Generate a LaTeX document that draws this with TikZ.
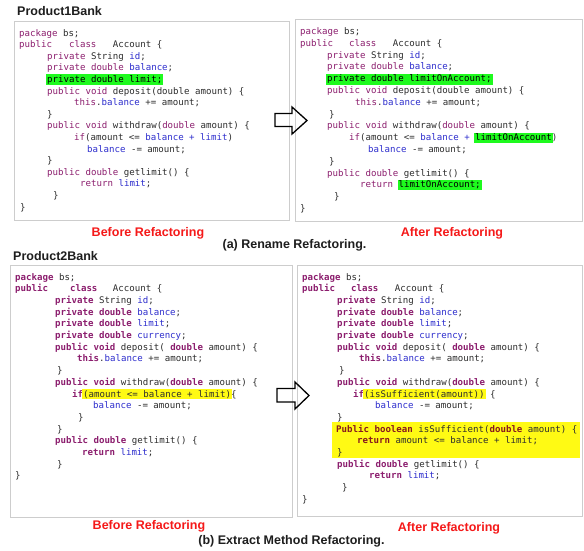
\documentclass[tikz,border=0pt]{standalone}
\usepackage{fontspec}
\setmainfont{Liberation Sans}
\newfontfamily\codefont{DejaVu Sans Mono}
\definecolor{kw}{RGB}{140,30,110}
\definecolor{kwy}{RGB}{135,25,30}
\definecolor{fldc}{RGB}{45,45,205}
\definecolor{codetxt}{RGB}{45,45,45}
\definecolor{titletxt}{RGB}{30,30,30}
\definecolor{capred}{RGB}{245,25,25}
\definecolor{panelgray}{RGB}{205,205,205}
\definecolor{hlgreen}{RGB}{30,250,30}
\definecolor{hlyellow}{RGB}{255,250,20}
\newcommand\jk[1]{\textcolor{kw}{#1}}
\newcommand\jkb[1]{\textcolor{kw}{\bfseries #1}}
\newcommand\jky[1]{\textcolor{kwy}{\bfseries #1}}
\newcommand\jf[1]{\textcolor{fldc}{#1}}
\newcommand\jhl[2]{\hspace*{-1pt}{\setlength{\fboxsep}{1pt}\colorbox{#1}{\vphantom{Ald(;}#2}}\hspace*{-1pt}}
\tikzset{
  code/.style={font=\codefont\fontsize{9.1}{10}\selectfont, text=codetxt, inner sep=0pt, anchor=base west},
  titletext/.style={font=\bfseries\fontsize{12.5}{14}\selectfont, text=titletxt, inner sep=0pt, anchor=base west},
  captext/.style={font=\bfseries\fontsize{12.5}{14}\selectfont, text=capred, inner sep=0pt, anchor=base},
  subtext/.style={font=\bfseries\fontsize{12.5}{14}\selectfont, text=titletxt, inner sep=0pt, anchor=base},
  panel/.style={draw=panelgray, line width=1pt, fill=white, inner sep=0pt},
  blockarrow/.style={draw=black, line width=1.3pt, line join=miter},
}
\begin{document}
\begin{tikzpicture}[x=1pt,y=-1pt]
\fill[white] (0,0) rectangle (584,550);
\useasboundingbox (0,0) rectangle (584,550);

% panels
\node[panel, minimum width=275pt, minimum height=199pt] (tlbox) at (151.5,120.5) {};
\node[panel, minimum width=287pt, minimum height=202pt] (trbox) at (438.5,120) {};
\node[panel, minimum width=282pt, minimum height=252pt] (blbox) at (151,391) {};
\node[panel, minimum width=285pt, minimum height=251pt] (brbox) at (439.5,390.5) {};

% titles
\node[titletext] (t1) at (17,15.5) {Product1Bank};
\node[titletext] (t2) at (13,260.5) {Product2Bank};

% top-left code
\node[code] (tl0) at (19,36) {\jk{package} bs;};
\node[code] (tl1) at (19,47.6) {\jk{public}\hspace{17pt}\jk{class}\hspace{16.5pt}Account \{};
\node[code] (tl2) at (47,59.2) {\jk{private} String \jf{id};};
\node[code] (tl3) at (47,70.8) {\jk{private double} \jf{balance};};
\node[code] (tl4) at (47,82.4) {\jhl{hlgreen}{\textcolor{black}{private double limit;}}};
\node[code] (tl5) at (47,94) {\jk{public void} deposit(double amount) \{};
\node[code] (tl6) at (74,105.6) {\jk{this}.\jf{balance} += amount;};
\node[code] (tl7) at (47,117.2) {\}};
\node[code] (tl8) at (47,128.8) {\jk{public void} withdraw(\jk{double} amount) \{};
\node[code] (tl9) at (74,140.4) {\jk{if}(amount <= \jf{balance + limit})};
\node[code] (tl10) at (87,152) {\jf{balance} -= amount;};
\node[code] (tl11) at (47,163.6) {\}};
\node[code] (tl12) at (47,175.2) {\jk{public double} getlimit() \{};
\node[code] (tl13) at (80,186.8) {\jk{return} \jf{limit};};
\node[code] (tl14) at (53,198.4) {\}};
\node[code] (tl15) at (20,210) {\}};

% top-right code
\node[code] (tr0) at (300,34.5) {\jk{package} bs;};
\node[code] (tr1) at (300,46.3) {\jk{public}\hspace{16pt}\jk{class}\hspace{16.5pt}Account \{};
\node[code] (tr2) at (327,58.1) {\jk{private} String \jf{id};};
\node[code] (tr3) at (327,69.9) {\jk{private double} \jf{balance};};
\node[code] (tr4) at (327,81.7) {\jhl{hlgreen}{\textcolor{black}{private double limitOnAccount;}}};
\node[code] (tr5) at (327,93.5) {\jk{public void} deposit(double amount) \{};
\node[code] (tr6) at (355,105.3) {\jk{this}.\jf{balance} += amount;};
\node[code] (tr7) at (329,117.1) {\}};
\node[code] (tr8) at (327,128.9) {\jk{public void} withdraw(\jk{double} amount) \{};
\node[code] (tr9) at (349,140.7) {\jk{if}(amount <= \jf{balance +} \jhl{hlgreen}{\textcolor{black}{limitOnAccount}})};
\node[code] (tr10) at (368,152.5) {\jf{balance} -= amount;};
\node[code] (tr11) at (329,164.3) {\}};
\node[code] (tr12) at (327,176.1) {\jk{public double} getlimit() \{};
\node[code] (tr13) at (360,187.9) {\jk{return} \jhl{hlgreen}{\textcolor{black}{limitOnAccount;}}};
\node[code] (tr14) at (334,199.7) {\}};
\node[code] (tr15) at (300,211.5) {\}};

% bottom-left code
\node[code] (bl0) at (15,280) {\jkb{package} bs;};
\node[code] (bl1) at (15,291.7) {\jkb{public}\hspace{22pt}\jkb{class}\hspace{15.5pt}Account \{};
\node[code] (bl2) at (55,303.4) {\jkb{private} String \jf{id};};
\node[code] (bl3) at (55,315.1) {\jkb{private double} \jf{balance};};
\node[code] (bl4) at (55,326.8) {\jkb{private double} \jf{limit};};
\node[code] (bl5) at (55,338.5) {\jkb{private double} \jf{currency};};
\node[code] (bl6) at (55,350.2) {\jkb{public void} deposit( \jkb{double} amount) \{};
\node[code] (bl7) at (77,361.9) {\jkb{this}.\jf{balance} += amount;};
\node[code] (bl8) at (57,373.6) {\}};
\node[code] (bl9) at (55,385.3) {\jkb{public void} withdraw(\jkb{double} amount) \{};
\node[code] (bl10) at (72,397) {\jkb{if}\jhl{hlyellow}{(amount <= balance + limit)}\{};
\node[code] (bl11) at (93,408.7) {\jf{balance} -= amount;};
\node[code] (bl12) at (78,420.4) {\}};
\node[code] (bl13) at (57,432.1) {\}};
\node[code] (bl14) at (55,443.8) {\jkb{public double} getlimit() \{};
\node[code] (bl15) at (82,455.5) {\jkb{return} \jf{limit};};
\node[code] (bl16) at (57,467.2) {\}};
\node[code] (bl17) at (15,478.9) {\}};

% bottom-right code
\fill[hlyellow] (332,422) rectangle (579.5,458);
\node[code] (br0) at (302,280) {\jkb{package} bs;};
\node[code] (br1) at (302,291.7) {\jkb{public}\hspace{16pt}\jkb{class}\hspace{16.5pt}Account \{};
\node[code] (br2) at (337,303.4) {\jkb{private} String \jf{id};};
\node[code] (br3) at (337,315.1) {\jkb{private double} \jf{balance};};
\node[code] (br4) at (337,326.8) {\jkb{private double} \jf{limit};};
\node[code] (br5) at (337,338.5) {\jkb{private double} \jf{currency};};
\node[code] (br6) at (337,350.2) {\jkb{public void} deposit( \jkb{double} amount) \{};
\node[code] (br7) at (359,361.9) {\jkb{this}.\jf{balance} += amount;};
\node[code] (br8) at (339,373.6) {\}};
\node[code] (br9) at (337,385.3) {\jkb{public void} withdraw(\jkb{double} amount) \{};
\node[code] (br10) at (353,397) {\jkb{if}\jhl{hlyellow}{(isSufficient(amount))} \{};
\node[code] (br11) at (375,408.7) {\jf{balance} -= amount;};
\node[code] (br12) at (337,420.4) {\}};
\node[code] (br13) at (336,432.1) {\jky{Public boolean} isSufficient(\jky{double} amount) \{};
\node[code] (br14) at (357,443.8) {\jky{return} amount <= balance + limit;};
\node[code] (br15) at (337,455.5) {\}};
\node[code] (br16) at (337,467.2) {\jkb{public double} getlimit() \{};
\node[code] (br17) at (369,478.9) {\jkb{return} \jf{limit};};
\node[code] (br18) at (342,490.6) {\}};
\node[code] (br19) at (302,502.3) {\}};

% captions
\node[captext] (c1) at (148,236) {Before Refactoring};
\node[captext] (c2) at (452,236) {After Refactoring};
\node[subtext] (s1) at (294.5,248) {(a) Rename Refactoring.};
\node[captext] (c3) at (149,529.5) {Before Refactoring};
\node[captext] (c4) at (449,531) {After Refactoring};
\node[subtext] (s2) at (291.5,544.5) {(b) Extract Method Refactoring.};

% block arrows
\draw[blockarrow] (275,113.5) -- (292,113.5) -- (292,107) -- (307,120.5) -- (292,134) -- (292,126.5) -- (275,126.5) -- cycle;
\draw[blockarrow] (277,388.5) -- (295,388.5) -- (295,382) -- (309,395.5) -- (295,409) -- (295,402) -- (277,402) -- cycle;
\end{tikzpicture}
\end{document}
